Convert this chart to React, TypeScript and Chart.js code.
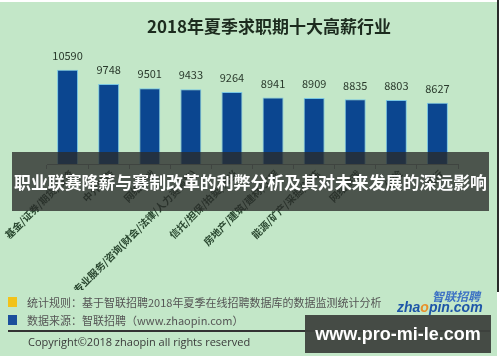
import React, { useEffect, useRef } from "react";
import { Chart, registerables } from "chart.js";

Chart.register(...registerables);

const title = "2018年夏季求职期十大高薪行业";
const categories = [
  "基金/证券/期货/投资",
  "中介服务",
  "网络游戏",
  "专业服务/咨询(财会/法律/人力资源等)",
  "信托/担保/拍卖/典当",
  "房地产/建筑/建材/工程",
  "能源/矿产/采掘/冶炼",
  "网络游戏",
  "保险",
  "银行",
];
const salaries = [10590, 9748, 9501, 9433, 9264, 8941, 8909, 8835, 8803, 8627];
const yMin = 5000;
const yMax = 12000;
const bannerText = "职业联赛降薪与赛制改革的利弊分析及其对未来发展的深远影响";
const noteRule = "统计规则：基于智联招聘2018年夏季在线招聘数据库的数据监测统计分析";
const noteSource = "数据来源：智联招聘（www.zhaopin.com）";
const copyright = "Copyright©2018 zhaopin all rights reserved";
const watermark = "www.pro-mi-le.com";

const CJK = '"Noto Sans CJK SC", "Noto Sans", sans-serif';

const decorPlugin = {
  id: "decor",
  afterDatasetsDraw(chart: any) {
    const ctx = chart.ctx;
    ctx.save();
    // title
    ctx.fillStyle = "#1c2b1e";
    ctx.font = `bold 17px ${CJK}`;
    ctx.textAlign = "center";
    ctx.textBaseline = "middle";
    ctx.fillText(title, 269, 27);
    // value labels
    const meta = chart.getDatasetMeta(0);
    ctx.font = `11px ${CJK}`;
    ctx.fillStyle = "#2a3a2c";
    meta.data.forEach((bar: any, i: number) => {
      ctx.fillText(String(salaries[i]), bar.x, bar.y - 14);
    });
    // category labels rotated
    const xs = chart.scales.x;
    const bottom = chart.chartArea.bottom;
    ctx.font = `bold 10px ${CJK}`;
    ctx.fillStyle = "#2a4830";
    ctx.textAlign = "right";
    categories.forEach((c, i) => {
      const x = xs.getPixelForValue(i);
      ctx.save();
      ctx.translate(x + 4, bottom + 8);
      ctx.rotate(-Math.PI / 4);
      ctx.fillText(c, 0, 0);
      ctx.restore();
    });
    ctx.restore();
  },
};

function ChartCanvas() {
  const ref = useRef<HTMLCanvasElement>(null);
  useEffect(() => {
    if (!ref.current) return;
    const chart = new Chart(ref.current, {
      type: "bar",
      data: {
        labels: categories,
        datasets: [
          {
            data: salaries,
            backgroundColor: "#0b4690",
            borderColor: "#79c6e2",
            borderWidth: 1,
            barPercentage: 0.51,
            categoryPercentage: 1,
          },
        ],
      },
      options: {
        animation: false,
        responsive: false,
        maintainAspectRatio: false,
        layout: { padding: { left: 47, right: 39, top: 46, bottom: 121 } },
        plugins: { legend: { display: false }, tooltip: { enabled: false }, title: { display: false } },
        scales: {
          x: {
            offset: true,
            grid: { display: true, drawOnChartArea: false, drawTicks: true, tickLength: 5, color: "#8a9a8c", offset: true },
            border: { display: true, color: "#8a9a8c" },
            ticks: { display: false },
          },
          y: { display: false, min: yMin, max: yMax },
        },
      },
      plugins: [decorPlugin],
    });
    return () => chart.destroy();
  }, []);
  return (
    <canvas
      ref={ref}
      width={497}
      height={290}
      style={{ position: "absolute", left: 0, top: 0, width: 497, height: 290 }}
    />
  );
}

export default function App() {
  const abs: React.CSSProperties = { position: "absolute", whiteSpace: "nowrap" };
  return (
    <div style={{ position: "fixed", left: 0, top: 0, width: 500, height: 362, background: "#ffffff", overflow: "hidden" }}>
      <div style={{ ...abs, left: 0, top: 2, width: 497, height: 354, background: "#c3e7c8" }} />
      <div style={{ ...abs, left: 497, top: 0, width: 2, height: 292, background: "#2a2a2a" }} />
      <ChartCanvas />
      <div
        style={{
          ...abs,
          left: 12,
          top: 152,
          width: 477,
          height: 59,
          background: "rgba(42,44,42,0.78)",
          color: "#ffffff",
          font: `bold 16.9px ${CJK}`,
          display: "flex",
          alignItems: "center",
          justifyContent: "center",
        }}
      >
        {bannerText}
      </div>
      <div style={{ ...abs, left: 8, top: 297, width: 9, height: 10, background: "#f2c21a" }} />
      <div style={{ ...abs, left: 27, top: 294, height: 16, lineHeight: "16px", font: `11px ${CJK}`, color: "#555555" }}>{noteRule}</div>
      <div style={{ ...abs, left: 8, top: 315, width: 9, height: 10, background: "#1b4f9c" }} />
      <div style={{ ...abs, left: 27, top: 312, height: 16, lineHeight: "16px", font: `11px ${CJK}`, color: "#555555" }}>{noteSource}</div>
      <div style={{ ...abs, left: 8, top: 330, width: 482, height: 1.5, background: "#333333" }} />
      <div style={{ ...abs, left: 28, top: 334, height: 16, lineHeight: "16px", font: `11px "Open Sans", sans-serif`, color: "#3a3a3a" }}>{copyright}</div>
      <div style={{ ...abs, left: 432, top: 287, lineHeight: "13px", font: `italic bold 12px ${CJK}`, color: "#3d72c4" }}>智联招聘</div>
      <div style={{ ...abs, left: 397, top: 299, lineHeight: "16px", font: `italic bold 14px "Liberation Sans", Arial, sans-serif`, color: "#1e56a8" }}>
        zha<span style={{ color: "#e8902a" }}>o</span>pin.com
      </div>
      <div
        style={{
          ...abs,
          left: 305,
          top: 315,
          width: 186,
          height: 38,
          background: "rgba(62,66,62,0.95)",
          color: "#ffffff",
          font: `bold 18px "Liberation Sans", Arial, sans-serif`,
          display: "flex",
          alignItems: "center",
          justifyContent: "center",
        }}
      >
        {watermark}
      </div>
    </div>
  );
}
